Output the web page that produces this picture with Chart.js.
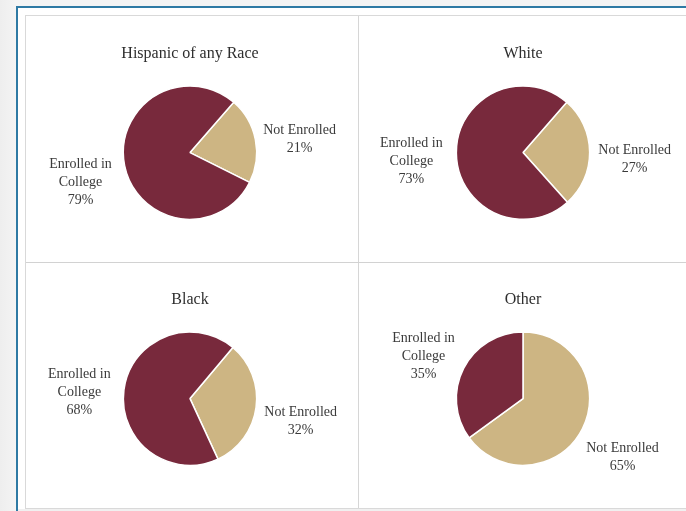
<!DOCTYPE html>
<html>
<head>
<meta charset="utf-8">
<script src="https://cdn.jsdelivr.net/npm/chart.js@4.4.1/dist/chart.umd.min.js"></script>
<style>
  html, body { margin: 0; padding: 0; }
  body {
    width: 686px; height: 511px; overflow: hidden; position: relative;
    background: linear-gradient(90deg, #eeeeee 0px, #f4f4f4 16px);
  }
  .frame {
    position: absolute; left: 16px; top: 6px; width: 700px; height: 520px;
    border-left: 2px solid #2f7aa4; border-top: 2px solid #2f7aa4;
    background: #ffffff;
  }
  .panel {
    position: absolute; left: 25px; top: 15px; width: 700px; height: 492px;
    border: 1px solid #d9d9d9; background: #fff;
  }
  .bottom-gap {
    position: absolute; left: 18px; top: 509px; width: 700px; height: 10px; background: #f0f0f0;
  }
  .vline { position: absolute; left: 358px; top: 16px; width: 1px; height: 492px; background: #d6d6d6; }
  .hline { position: absolute; left: 26px; top: 262px; width: 700px; height: 1px; background: #d2d2d2; }
  canvas { position: absolute; }
</style>
</head>
<body>
<div class="frame"></div>
<div class="panel"></div>
<div class="bottom-gap"></div>
<div class="vline"></div>
<div class="hline"></div>
<canvas id="c0" width="330" height="246" style="left:25px;top:16px"></canvas>
<canvas id="c1" width="326" height="246" style="left:360px;top:16px"></canvas>
<canvas id="c2" width="330" height="246" style="left:25px;top:262px"></canvas>
<canvas id="c3" width="326" height="246" style="left:360px;top:262px"></canvas>
<script>
// enrollment by group
const groups = ['Hispanic of any Race', 'White', 'Black', 'Other']
const categories = [['Not Enrolled'], ['Enrolled in', 'College']]
const notEnrolled = [21, 27, 32, 65]
const enrolled = [79, 73, 68, 35]

const gold = '#cdb583'
const maroon = '#78293c'
const serif = '"Liberation Serif", "Times New Roman", serif'
// where the first slice starts, degrees from the top
const rotations = [41, 41, 40, 0]

// label + percent outside each slice
const sliceLabels = {
  id: 'sliceLabels',
  afterDatasetsDraw(chart) {
    const ctx = chart.ctx
    const meta = chart.getDatasetMeta(0)
    const values = chart.data.datasets[0].data
    ctx.save()
    ctx.font = '14px ' + serif
    ctx.fillStyle = '#3a3a3a'
    ctx.textAlign = 'center'
    ctx.textBaseline = 'middle'
    meta.data.forEach((arc, i) => {
      const p = arc.getProps(['x', 'y', 'startAngle', 'endAngle', 'outerRadius'], true)
      const mid = (p.startAngle + p.endAngle) / 2
      const d = p.outerRadius + 45
      const cx = p.x + Math.cos(mid) * d
      const cy = p.y + Math.sin(mid) * d + 8
      const lines = [...chart.data.labels[i], values[i] + '%']
      const lh = 18
      lines.forEach((t, k) => {
        ctx.fillText(t, cx, cy + (k - (lines.length - 1) / 2) * lh)
      })
    })
    ctx.restore()
  }
}

groups.forEach((name, i) => {
  new Chart(document.getElementById('c' + i), {
    type: 'pie',
    data: {
      labels: categories,
      datasets: [{
        data: [notEnrolled[i], enrolled[i]],
        backgroundColor: [gold, maroon],
        borderColor: '#ffffff',
        borderWidth: 1.5
      }]
    },
    options: {
      responsive: false,
      animation: false,
      events: [],
      rotation: rotations[i],
      layout: { padding: { top: 0, bottom: 42, left: 0, right: 0 } },
      plugins: {
        legend: { display: false },
        tooltip: { enabled: false },
        title: {
          display: true,
          text: name,
          color: '#2e2e2e',
          font: { family: serif, size: 16, weight: 'normal' },
          padding: { top: 28, bottom: 22 }
        }
      }
    },
    plugins: [sliceLabels]
  })
})
</script>
</body>
</html>
